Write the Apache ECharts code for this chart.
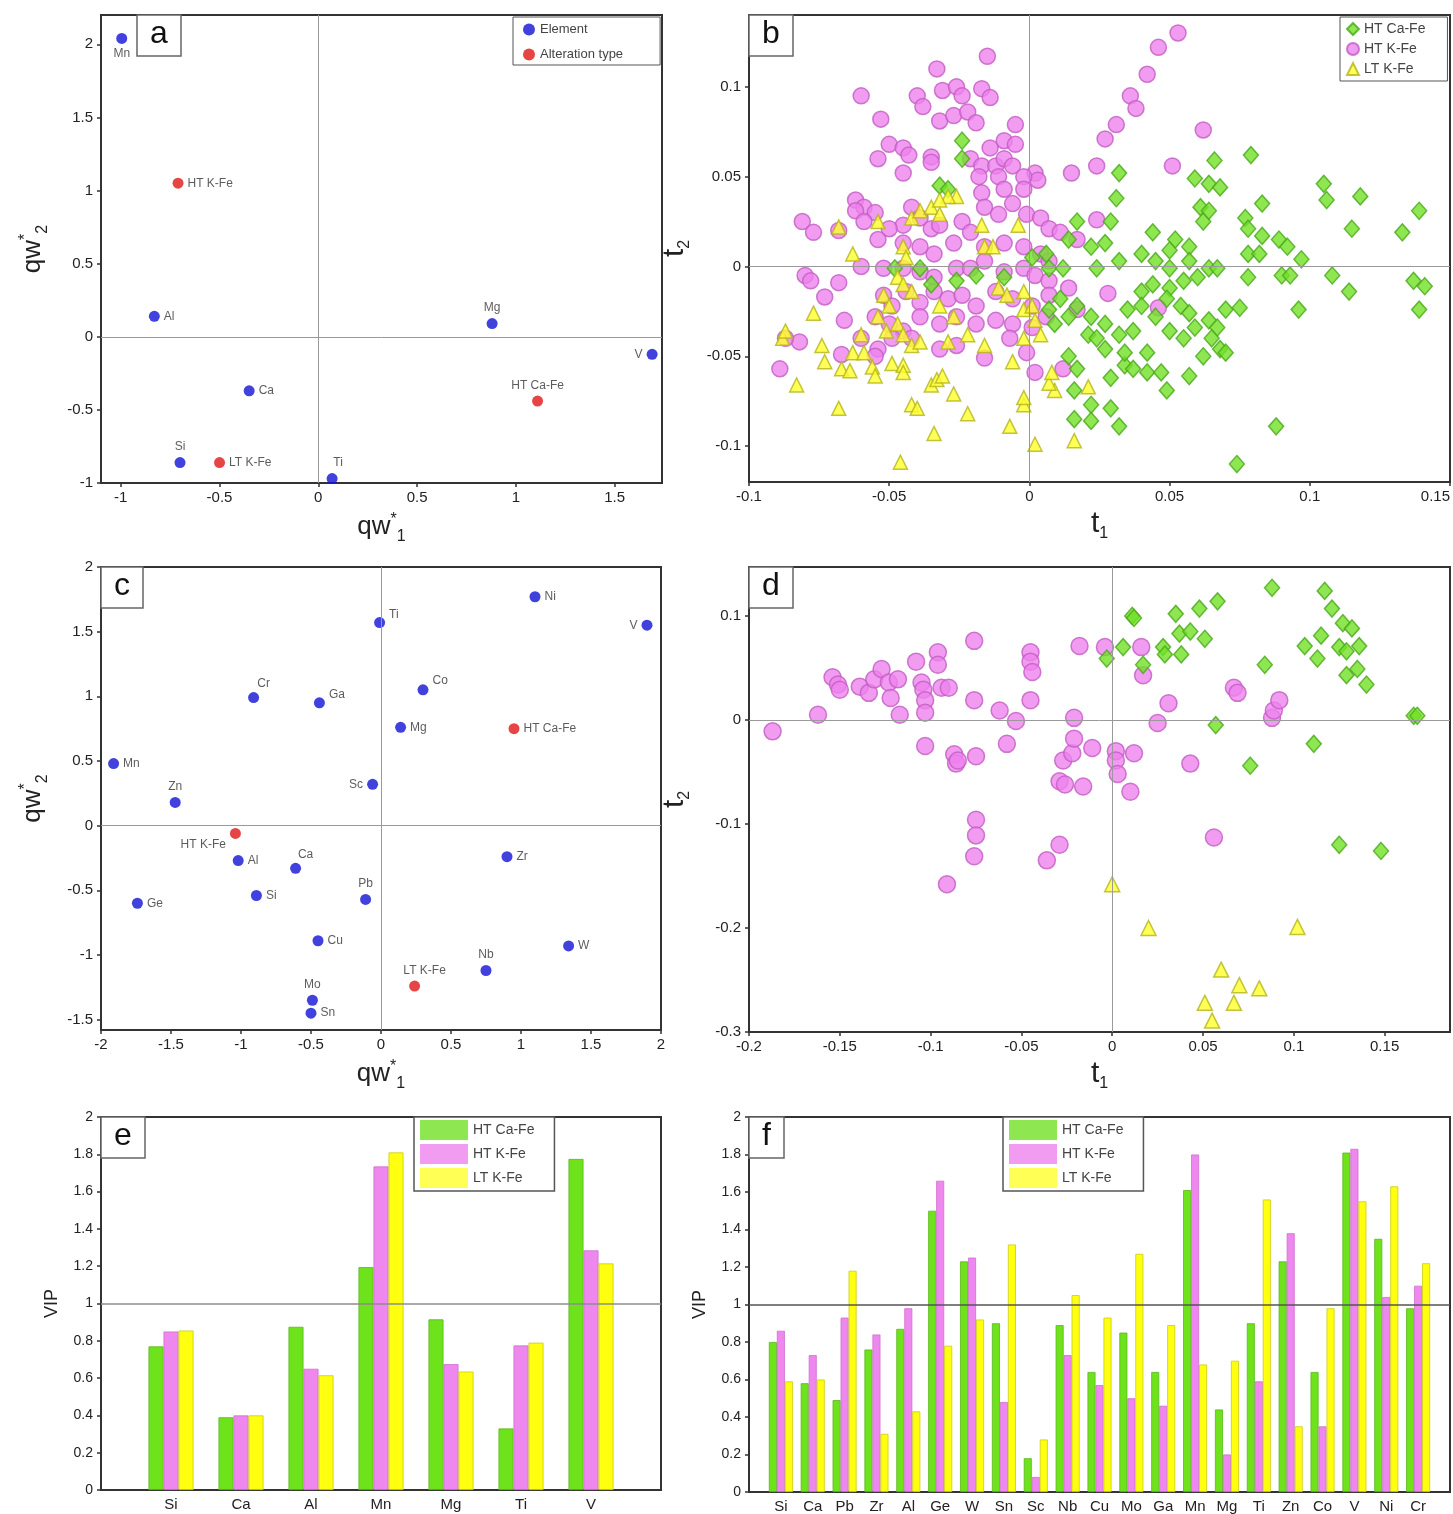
<!DOCTYPE html>
<html><head><meta charset="utf-8">
<script src="https://cdn.jsdelivr.net/npm/echarts@6/dist/echarts.min.js"></script>
<style>html,body{margin:0;padding:0;background:#fff}#c{width:1453px;height:1514px}</style>
</head><body><div id="c"></div>
<script>
// ---------- Panel a : loadings (qw*1, qw*2) ----------
const aElemNames = ['Mn','Al','Ca','Si','Ti','Mg','V'];
const aElemX = [-0.995,-0.83,-0.35,-0.70,0.07,0.88,1.69];
const aElemY = [2.04,0.14,-0.37,-0.86,-0.97,0.09,-0.12];
const aAltNames = ['HT K-Fe','LT K-Fe','HT Ca-Fe'];
const aAltX = [-0.71,-0.50,1.11];
const aAltY = [1.05,-0.86,-0.44];

// ---------- Panel c : loadings (qw*1, qw*2) ----------
const cElemNames = ['Ni','Ti','V','Cr','Ga','Co','Mg','Mn','Sc','Zn','Al','Ca','Si','Pb','Ge','Zr','Cu','W','Nb','Mo','Sn'];
const cElemX = [1.10,-0.01,1.90,-0.91,-0.44,0.30,0.14,-1.91,-0.06,-1.47,-1.02,-0.61,-0.89,-0.11,-1.74,0.90,-0.45,1.34,0.75,-0.49,-0.50];
const cElemY = [1.77,1.57,1.55,0.99,0.95,1.05,0.76,0.48,0.32,0.18,-0.27,-0.33,-0.54,-0.57,-0.60,-0.24,-0.89,-0.93,-1.12,-1.35,-1.45];
const cAltNames = ['HT Ca-Fe','HT K-Fe','LT K-Fe'];
const cAltX = [0.95,-1.04,0.24];
const cAltY = [0.75,-0.06,-1.24];

// ---------- Panel b : scores (t1, t2) ----------
const bHTKFe = [[0.053,0.130],[0.046,0.122],[0.042,0.107],[0.036,0.095],[0.038,0.088],[0.031,0.079],[0.027,0.071],[0.062,0.076],[0.024,0.056],[0.015,0.052],[0.051,0.056],[0.024,0.026],[0.046,-0.023],[0.028,-0.015],[0.017,-0.024],[0.012,-0.057],
[-0.015,0.117],[-0.033,0.110],[-0.060,0.095],[-0.053,0.082],[-0.040,0.095],[-0.038,0.089],[-0.031,0.098],[-0.026,0.100],[-0.024,0.095],[-0.017,0.099],[-0.014,0.094],[-0.032,0.081],[-0.027,0.084],[-0.022,0.086],[-0.019,0.080],[-0.005,0.079],[-0.009,0.070],[-0.005,0.068],
[-0.050,0.068],[-0.045,0.066],[-0.043,0.062],[-0.054,0.060],[-0.045,0.052],[-0.035,0.061],[-0.035,0.058],[-0.021,0.060],[-0.017,0.056],[-0.018,0.050],[-0.012,0.056],[-0.009,0.060],[-0.014,0.066],[-0.006,0.056],[0.002,0.052],[0.003,0.048],[-0.002,0.050],[-0.011,0.050],
[-0.017,0.041],[-0.009,0.043],[-0.002,0.043],[-0.006,0.035],[-0.016,0.033],[-0.011,0.029],[-0.001,0.029],[0.004,0.027],[0.007,0.021],[0.011,0.019],[0.017,0.015],[-0.062,0.037],[-0.059,0.033],[-0.055,0.030],[-0.062,0.031],[-0.081,0.025],[-0.077,0.019],[-0.068,0.020],
[-0.042,0.033],[-0.045,0.023],[-0.039,0.027],[-0.035,0.021],[-0.032,0.023],[-0.050,0.021],[-0.059,0.025],[-0.054,0.015],[-0.045,0.013],[-0.039,0.011],[-0.034,0.007],[-0.027,0.013],[-0.024,0.025],[-0.021,0.019],[-0.016,0.011],[-0.009,0.013],[-0.002,0.011],[0.004,0.007],[0.007,0.003],
[-0.060,0.000],[-0.080,-0.005],[-0.078,-0.008],[-0.073,-0.017],[-0.068,-0.009],[-0.052,-0.001],[-0.045,-0.001],[-0.039,-0.003],[-0.034,-0.006],[-0.026,-0.001],[-0.021,-0.001],[-0.016,0.003],[-0.009,-0.003],[-0.002,-0.001],[0.002,-0.005],[0.007,-0.008],[0.014,-0.012],
[-0.052,-0.016],[-0.049,-0.022],[-0.044,-0.014],[-0.039,-0.020],[-0.034,-0.014],[-0.029,-0.018],[-0.024,-0.016],[-0.019,-0.022],[-0.012,-0.014],[-0.006,-0.018],[0.001,-0.022],[0.007,-0.016],
[-0.055,-0.028],[-0.050,-0.032],[-0.045,-0.036],[-0.039,-0.028],[-0.032,-0.032],[-0.026,-0.028],[-0.019,-0.032],[-0.012,-0.030],[-0.006,-0.032],[0.001,-0.034],[0.006,-0.028],
[-0.066,-0.030],[-0.060,-0.040],[-0.054,-0.046],[-0.049,-0.040],[-0.042,-0.040],[-0.032,-0.046],[-0.026,-0.044],[-0.016,-0.051],[-0.007,-0.040],[-0.001,-0.048],[0.002,-0.059],[-0.089,-0.057],[-0.082,-0.042],[-0.067,-0.049],[-0.055,-0.050],[-0.087,-0.040]];
const bHTCaFe = [[0.079,0.062],[0.066,0.059],[0.059,0.049],[0.064,0.046],[0.068,0.044],[0.105,0.046],[0.106,0.037],[0.118,0.039],[0.139,0.031],[0.133,0.019],[0.115,0.021],[0.083,0.035],[0.077,0.027],[0.078,0.021],[0.083,0.017],[0.061,0.033],[0.062,0.025],[0.064,0.031],
[0.044,0.019],[0.052,0.015],[0.050,0.009],[0.057,0.011],[0.032,0.052],[0.031,0.038],[0.029,0.025],[0.017,0.025],[0.014,0.015],[0.022,0.011],[0.027,0.013],[0.032,0.003],[0.040,0.007],[0.045,0.003],[0.050,-0.001],[0.057,0.003],[0.064,-0.001],[0.067,-0.001],
[0.078,0.007],[0.082,0.007],[0.089,0.015],[0.092,0.011],[0.097,0.004],[0.078,-0.006],[0.090,-0.005],[0.093,-0.005],[0.108,-0.005],[0.114,-0.014],[0.137,-0.008],[0.141,-0.011],[0.139,-0.024],[0.096,-0.024],
[0.060,-0.006],[0.055,-0.008],[0.050,-0.012],[0.044,-0.010],[0.040,-0.014],[0.040,-0.022],[0.049,-0.018],[0.054,-0.022],[0.057,-0.026],[0.059,-0.034],[0.064,-0.030],[0.067,-0.034],[0.070,-0.024],[0.075,-0.023],[0.065,-0.040],[0.068,-0.046],[0.070,-0.048],[0.062,-0.050],
[0.035,-0.024],[0.037,-0.036],[0.032,-0.038],[0.027,-0.032],[0.022,-0.028],[0.017,-0.022],[0.011,-0.018],[0.007,-0.024],[0.009,-0.032],[0.014,-0.028],[0.021,-0.038],[0.024,-0.040],[0.027,-0.046],[0.034,-0.055],[0.037,-0.057],[0.042,-0.059],[0.047,-0.059],[0.049,-0.069],
[0.029,-0.062],[0.014,-0.050],[0.017,-0.057],[0.016,-0.069],[0.022,-0.077],[0.029,-0.079],[0.016,-0.085],[0.022,-0.086],[0.032,-0.089],[0.088,-0.089],[0.074,-0.110],
[-0.024,0.070],[-0.024,0.060],[-0.032,0.045],[-0.029,0.043],[-0.048,-0.001],[-0.039,-0.001],[-0.035,-0.010],[-0.026,-0.008],[-0.019,-0.005],[-0.009,-0.006],[0.007,-0.001],[0.012,-0.001],[0.024,-0.001],[0.006,0.007],[0.001,0.005],
[0.045,-0.028],[0.050,-0.036],[0.055,-0.040],[0.042,-0.048],[0.057,-0.061],[0.034,-0.048]];
const bLTKFe = [[-0.068,0.022],[-0.063,0.007],[-0.054,0.025],[-0.042,0.027],[-0.039,0.031],[-0.035,0.033],[-0.032,0.029],[-0.045,0.011],[-0.044,0.005],[-0.047,-0.006],[-0.045,-0.010],[-0.042,-0.014],[-0.052,-0.016],[-0.050,-0.022],[-0.054,-0.028],[-0.051,-0.036],
[-0.047,-0.032],[-0.045,-0.038],[-0.042,-0.044],[-0.039,-0.042],[-0.032,-0.022],[-0.027,-0.028],[-0.029,-0.042],[-0.022,-0.038],[-0.016,0.011],[-0.016,-0.044],[-0.011,-0.012],[-0.008,-0.016],[-0.002,-0.014],[-0.004,0.023],[-0.002,-0.024],[0.001,-0.022],[0.002,-0.030],[0.004,-0.038],[-0.002,-0.040],
[-0.077,-0.026],[-0.074,-0.044],[-0.073,-0.053],[-0.083,-0.066],[-0.067,-0.057],[-0.064,-0.058],[-0.063,-0.048],[-0.060,-0.038],[-0.059,-0.048],[-0.056,-0.056],[-0.055,-0.061],[-0.049,-0.054],[-0.045,-0.055],[-0.045,-0.059],[-0.035,-0.066],[-0.033,-0.063],[-0.031,-0.061],
[-0.027,-0.071],[-0.042,-0.077],[-0.040,-0.079],[-0.022,-0.082],[-0.068,-0.079],[-0.034,-0.093],[-0.046,-0.109],[-0.007,-0.089],[-0.002,-0.077],[-0.002,-0.073],[-0.006,-0.053],[0.002,-0.099],[0.016,-0.097],[0.009,-0.069],[0.021,-0.067],[0.007,-0.065],[0.008,-0.059],
[-0.026,0.039],[-0.029,0.039],[-0.032,0.037],[-0.017,0.023],[-0.013,0.011],[-0.088,-0.040],[-0.087,-0.036]];

// ---------- Panel d : scores (t1, t2) ----------
const dHTKFe = [[-0.187,-0.011],[-0.162,0.005],[-0.154,0.041],[-0.151,0.034],[-0.150,0.029],[-0.139,0.032],[-0.134,0.026],[-0.131,0.039],[-0.127,0.049],[-0.123,0.036],[-0.122,0.021],[-0.118,0.039],[-0.117,0.005],[-0.108,0.056],[-0.105,0.036],[-0.104,0.029],[-0.103,0.019],[-0.103,0.007],
[-0.096,0.065],[-0.096,0.053],[-0.094,0.031],[-0.090,0.031],[-0.103,-0.025],[-0.087,-0.033],[-0.086,-0.042],[-0.085,-0.039],[-0.076,0.076],[-0.076,0.019],[-0.075,-0.035],[-0.062,0.009],[-0.058,-0.023],[-0.053,-0.001],[-0.045,0.065],[-0.045,0.056],[-0.044,0.046],[-0.045,0.019],
[-0.029,-0.059],[-0.026,-0.062],[-0.027,-0.039],[-0.022,-0.032],[-0.021,-0.018],[-0.021,0.002],[-0.011,-0.027],[-0.018,0.071],[-0.004,0.070],[0.002,-0.030],[0.002,-0.039],[0.003,-0.052],[0.010,-0.069],[0.012,-0.032],[0.016,0.070],[0.017,0.043],[0.025,-0.003],[0.031,0.016],[0.043,-0.042],
[0.067,0.031],[0.069,0.026],[0.088,0.002],[0.089,0.009],[0.092,0.019],[0.056,-0.113],[-0.075,-0.096],[-0.075,-0.111],[-0.076,-0.131],[-0.029,-0.120],[-0.036,-0.135],[-0.091,-0.158],[-0.016,-0.064]];
const dHTCaFe = [[0.011,0.100],[0.012,0.098],[0.028,0.070],[0.029,0.063],[0.035,0.102],[0.037,0.083],[0.038,0.063],[0.043,0.085],[0.048,0.107],[0.051,0.078],[0.058,0.114],[0.088,0.127],[0.117,0.124],[0.121,0.107],[0.127,0.093],[0.132,0.088],[0.115,0.081],[0.106,0.071],
[0.113,0.059],[0.125,0.070],[0.129,0.066],[0.136,0.071],[0.084,0.053],[0.135,0.049],[0.129,0.043],[0.140,0.034],[0.017,0.053],[-0.003,0.059],[0.057,-0.005],[0.076,-0.044],[0.111,-0.023],[0.125,-0.120],[0.148,-0.126],[0.166,0.004],[0.168,0.004],[0.006,0.070]];
const dLTKFe = [[0.000,-0.158],[0.020,-0.200],[0.102,-0.199],[0.060,-0.240],[0.070,-0.255],[0.081,-0.258],[0.051,-0.272],[0.067,-0.272],[0.055,-0.289]];

// ---------- Panel e : VIP ----------
const eCats = ['Si','Ca','Al','Mn','Mg','Ti','V'];
const eHTCaFe = [0.77,0.39,0.875,1.195,0.915,0.33,1.775];
const eHTKFe  = [0.85,0.40,0.65,1.735,0.675,0.775,1.285];
const eLTKFe  = [0.855,0.40,0.615,1.81,0.635,0.79,1.215];

// ---------- Panel f : VIP ----------
const fCats = ['Si','Ca','Pb','Zr','Al','Ge','W','Sn','Sc','Nb','Cu','Mo','Ga','Mn','Mg','Ti','Zn','Co','V','Ni','Cr'];
const fHTCaFe = [0.80,0.58,0.49,0.76,0.87,1.50,1.23,0.90,0.18,0.89,0.64,0.85,0.64,1.61,0.44,0.90,1.23,0.64,1.81,1.35,0.98];
const fHTKFe  = [0.86,0.73,0.93,0.84,0.98,1.66,1.25,0.48,0.08,0.73,0.57,0.50,0.46,1.80,0.20,0.59,1.38,0.35,1.83,1.04,1.10];
const fLTKFe  = [0.59,0.60,1.18,0.31,0.43,0.78,0.92,1.32,0.28,1.05,0.93,1.27,0.89,0.68,0.70,1.56,0.35,0.98,1.55,1.63,1.22];

// ================= option building =================
const FONT = 'Liberation Sans, Arial, sans-serif';
const GREEN = '#72e126', GREEN_B = '#4aa81a';
const PINK = '#ee82ee', PINK_B = '#c25cc2';
const YEL = '#ffff2a', YEL_B = '#b4b41c';
const BLUE = '#1212d6', RED = '#e01616';

const gridBoxes = [
  [101,15,561,468],[749,15,701,467],
  [101,567,560,463],[749,567,701,465],
  [101,1117,560,373],[749,1117,701,375]
];
const grid = gridBoxes.map(b => ({left:b[0], top:b[1], width:b[2], height:b[3], show:true, borderColor:'#333', borderWidth:2,
  backgroundColor:'#fff', containLabel:false, outerBoundsMode:'none'}));

const RICH = {
  m:{fontSize:26, fontFamily:FONT, color:'#222'},
  t:{fontSize:30, fontFamily:FONT, color:'#222'},
  sup:{fontSize:16, fontFamily:FONT, color:'#222', padding:[0,0,14,0]},
  sub:{fontSize:16, fontFamily:FONT, color:'#222', padding:[20,0,0,0]},
  v:{fontSize:18, fontFamily:FONT, color:'#222'}
};
function axis(type, gi, extra) {
  return Object.assign({
    type: type, gridIndex: gi,
    axisLine:{show:true, onZero:false, lineStyle:{color:'#333', width:2}},
    axisTick:{show:true, length:4, lineStyle:{color:'#333', width:1.5}},
    splitLine:{show:false},
    axisLabel:{fontSize:15, color:'#222', fontFamily:FONT, margin:7},
    nameLocation:'middle',
    nameTextStyle:{rich:RICH}
  }, extra);
}
const QW1 = '{m|qw}{sup|*}{sub|1}', QW2 = '{m|qw}{sup|*}{sub|2}';
const T1 = '{t|t}{sub|1}', T2 = '{t|t}{sub|2}';

const xAxis = [
  axis('value',0,{min:-1.1,max:1.74,splitNumber:5,name:QW1,nameGap:26,axisLabel:{fontSize:15,color:'#222',fontFamily:FONT,margin:7,showMinLabel:false,showMaxLabel:false}}),
  axis('value',1,{min:-0.1,max:0.15,interval:0.05,name:T1,nameGap:24,axisLabel:{fontSize:15,color:'#222',fontFamily:FONT,margin:7,alignMaxLabel:'right'}}),
  axis('value',2,{min:-2,max:2,interval:0.5,name:QW1,nameGap:26}),
  axis('value',3,{min:-0.2,max:0.186,interval:0.05,name:T1,nameGap:24,axisLabel:{fontSize:15,color:'#222',fontFamily:FONT,margin:7,showMaxLabel:false}}),
  axis('category',4,{data:[''].concat(eCats,['']),boundaryGap:false,axisTick:{show:false}}),
  axis('category',5,{data:[''].concat(fCats,['']),boundaryGap:false,axisTick:{show:false}})
];
const yAxis = [
  axis('value',0,{min:-1,max:2.2,interval:0.5,name:QW2,nameGap:50,axisLabel:{fontSize:15,color:'#222',fontFamily:FONT,margin:8,showMaxLabel:false}}),
  axis('value',1,{min:-0.12,max:0.14,splitNumber:5,name:T2,nameGap:56,axisLabel:{fontSize:15,color:'#222',fontFamily:FONT,margin:8,showMinLabel:false,showMaxLabel:false}}),
  axis('value',2,{min:-1.58,max:2,splitNumber:7,name:QW2,nameGap:50,axisLabel:{fontSize:15,color:'#222',fontFamily:FONT,margin:8,showMinLabel:false}}),
  axis('value',3,{min:-0.3,max:0.147,interval:0.1,name:T2,nameGap:56,axisLabel:{fontSize:15,color:'#222',fontFamily:FONT,margin:8,showMaxLabel:false}}),
  axis('value',4,{min:0,max:2,interval:0.2,name:'{v|VIP}',nameGap:40,axisLabel:{fontSize:14,color:'#222',fontFamily:FONT,margin:8}}),
  axis('value',5,{min:0,max:2,interval:0.2,name:'{v|VIP}',nameGap:40,axisLabel:{fontSize:14,color:'#222',fontFamily:FONT,margin:8}})
];

// label placement (style only)
const aLbl = {Mn:['bottom',0,0],Al:['right',0,0],Ca:['right',0,0],Si:['top',0,0],Ti:['top',6,0],Mg:['top',0,0],V:['left',0,0],
  'HT K-Fe':['right',0,0],'LT K-Fe':['right',0,0],'HT Ca-Fe':['top',0,0]};
const cLbl = {Ni:['right',0,0],Ti:['right',0,-8],V:['left',0,0],Cr:['top',10,2],Ga:['right',0,-8],Co:['right',0,-9],Mg:['right',0,0],Mn:['right',0,0],
  Sc:['left',0,0],Zn:['top',0,0],Al:['right',0,0],Ca:['top',10,2],Si:['right',0,0],Pb:['top',0,0],Ge:['right',0,0],Zr:['right',0,0],Cu:['right',0,0],
  W:['right',0,0],Nb:['top',0,0],Mo:['top',0,0],Sn:['right',0,0],'HT Ca-Fe':['right',0,0],'HT K-Fe':['left',0,11],'LT K-Fe':['top',10,0]};
function pts(names, xs, ys, lbl) {
  return names.map((n,i) => ({name:n, value:[xs[i], ys[i]], label:{position:lbl[n][0], offset:[lbl[n][1], lbl[n][2]]}}));
}
const zeroLines = {silent:true, symbol:'none', animation:false, label:{show:false},
  lineStyle:{color:'#9a9a9a', width:1, type:'solid'}, data:[{xAxis:0},{yAxis:0}]};
const ptLabel = {show:true, formatter:'{b}', fontSize:12, color:'#333', fontFamily:FONT, distance:4};

function loadSeries(gi, name, data, color, withZero) {
  const s = {type:'scatter', name:name, xAxisIndex:gi, yAxisIndex:gi, symbol:'circle', symbolSize:11,
    itemStyle:{color:color}, label:ptLabel, data:data, z:3};
  if (withZero) s.markLine = zeroLines;
  return s;
}
function scoreSeries(gi, name, data, symbol, size, color, border, withZero) {
  const s = {type:'scatter', name:name, xAxisIndex:gi, yAxisIndex:gi, symbol:symbol, symbolSize:size,
    itemStyle:{color:color, borderColor:border, borderWidth:1.5}, data:data};
  if (withZero) s.markLine = zeroLines;
  return s;
}
function barSeries(gi, name, vals, color, border, w, ref) {
  const s = {type:'bar', name:name, xAxisIndex:gi, yAxisIndex:gi, barWidth:w, barGap:'0%',
    itemStyle:{color:color, borderColor:border, borderWidth:0.8}, data:[null].concat(vals,[null])};
  if (ref) s.markLine = {silent:true, symbol:'none', animation:false, label:{show:false},
    lineStyle:{color:ref, width:1.5, type:'solid'}, data:[{yAxis:1}]};
  return s;
}

const series = [
  loadSeries(0,'Element',pts(aElemNames,aElemX,aElemY,aLbl),BLUE,true),
  loadSeries(0,'Alteration type',pts(aAltNames,aAltX,aAltY,aLbl),RED,false),
  loadSeries(2,'Element',pts(cElemNames,cElemX,cElemY,cLbl),BLUE,true),
  loadSeries(2,'Alteration type',pts(cAltNames,cAltX,cAltY,cLbl),RED,false),
  scoreSeries(1,'HT K-Fe',bHTKFe,'circle',16,PINK,PINK_B,true),
  scoreSeries(1,'HT Ca-Fe',bHTCaFe,'diamond',[15,17],GREEN,GREEN_B,false),
  scoreSeries(1,'LT K-Fe',bLTKFe,'triangle',14,YEL,YEL_B,false),
  scoreSeries(3,'HT K-Fe',dHTKFe,'circle',17,PINK,PINK_B,true),
  scoreSeries(3,'HT Ca-Fe',dHTCaFe,'diamond',[15,17],GREEN,GREEN_B,false),
  scoreSeries(3,'LT K-Fe',dLTKFe,'triangle',15,YEL,YEL_B,false),
  barSeries(4,'HT Ca-Fe',eHTCaFe,'#6ee31c','#58b81a',15,'#8c8c8c'),
  barSeries(4,'HT K-Fe',eHTKFe,'#ee88ee','#cf6fcf',15,null),
  barSeries(4,'LT K-Fe',eLTKFe,'#ffff10','#cccc10',15,null),
  barSeries(5,'HT Ca-Fe',fHTCaFe,'#6ee31c','#58b81a',8,'#555'),
  barSeries(5,'HT K-Fe',fHTKFe,'#ee88ee','#cf6fcf',8,null),
  barSeries(5,'LT K-Fe',fLTKFe,'#ffff10','#cccc10',8,null)
];

const titleBoxes = [['a',137,15],['b',749,15],['c',101,567],['d',749,567],['e',101,1117],['f',749,1117]];
const title = titleBoxes.map(t => ({text:t[0], left:t[1], top:t[2], padding:[3,13,5,13], borderColor:'#666', borderWidth:1.5,
  backgroundColor:'#fff', textStyle:{fontSize:32, fontWeight:'normal', color:'#111', fontFamily:FONT, lineHeight:33}}));

const legTxt = (size) => ({fontSize:size, color:'#444', fontFamily:FONT});
const legend = [
  {left:513, top:17, orient:'vertical', data:['Element','Alteration type'], itemWidth:12, itemHeight:12, itemGap:12,
   padding:[6,37,4,10], borderColor:'#555', borderWidth:1, backgroundColor:'#fff', textStyle:legTxt(13)},
  {left:1340, top:17, orient:'vertical', data:['HT Ca-Fe','HT K-Fe','LT K-Fe'], itemWidth:12, itemHeight:12, itemGap:6,
   padding:[5,22,5,6], borderColor:'#555', borderWidth:1, backgroundColor:'#fff', textStyle:legTxt(14)},
  {left:414, top:1117, orient:'vertical', data:['HT Ca-Fe','HT K-Fe','LT K-Fe'], icon:'rect', itemWidth:48, itemHeight:20, itemGap:4,
   padding:[3,20,3,6], borderColor:'#555', borderWidth:1.5, backgroundColor:'#fff', itemStyle:{borderWidth:0}, textStyle:legTxt(14)},
  {left:1003, top:1117, orient:'vertical', data:['HT Ca-Fe','HT K-Fe','LT K-Fe'], icon:'rect', itemWidth:48, itemHeight:20, itemGap:4,
   padding:[3,20,3,6], borderColor:'#555', borderWidth:1.5, backgroundColor:'#fff', itemStyle:{borderWidth:0}, textStyle:legTxt(14)}
];

const chart = echarts.init(document.getElementById('c'), null, {renderer:'canvas'});
chart.setOption({animation:false, backgroundColor:'#fff', textStyle:{fontFamily:FONT},
  title:title, legend:legend, grid:grid, xAxis:xAxis, yAxis:yAxis, series:series});
</script></body></html>
